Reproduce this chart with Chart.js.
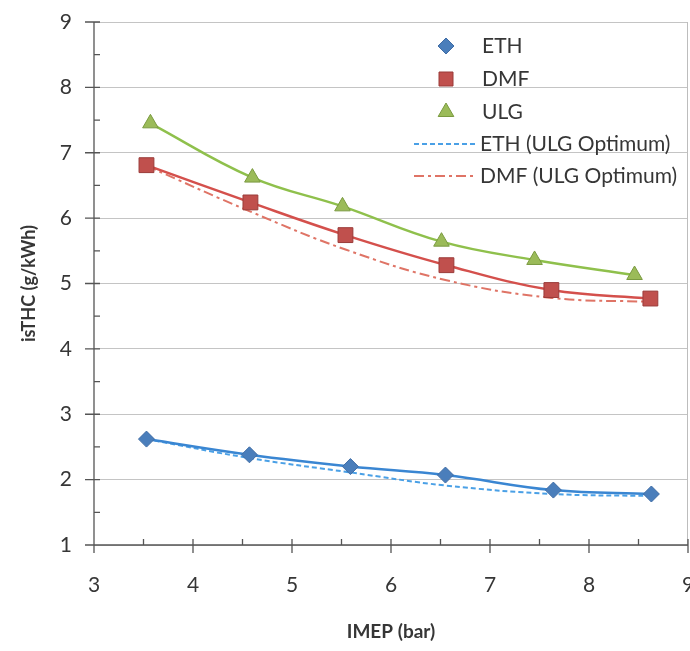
<!DOCTYPE html>
<html><head><meta charset="utf-8">
<script src="https://cdn.jsdelivr.net/npm/chart.js@4/dist/chart.umd.min.js"></script>
<style>
html,body{margin:0;padding:0;background:#fff;overflow:hidden;width:690px;height:651px}
#wrap{position:relative;width:700px;height:651px}
canvas{display:block}
</style></head>
<body><div id="wrap"><canvas id="c" width="700" height="651"></canvas></div>
<script>
// ---- data ----
const xTickLabels = [3, 4, 5, 6, 7, 8, 9];
const yTickLabels = [1, 2, 3, 4, 5, 6, 7, 8, 9];

const ethX = [3.53, 4.57, 5.59, 6.55, 7.64, 8.63];
const ethY = [2.62, 2.38, 2.20, 2.07, 1.84, 1.78];

const dmfX = [3.53, 4.58, 5.54, 6.56, 7.62, 8.62];
const dmfY = [6.81, 6.24, 5.74, 5.28, 4.90, 4.77];

const ulgX = [3.57, 4.60, 5.51, 6.51, 7.45, 8.46];
const ulgY = [7.45, 6.62, 6.18, 5.64, 5.36, 5.13];

const ethOptY = [2.62, 2.33, 2.11, 1.91, 1.78, 1.75];
const dmfOptY = [6.80, 6.10, 5.52, 5.05, 4.78, 4.72];

const seriesNames = ['ETH', 'DMF', 'ULG', 'ETH (ULG Optimum)', 'DMF (ULG Optimum)'];
const xTitle = 'IMEP (bar)';
const yTitle = 'isTHC (g/kWh)';

const pts = (xs, ys) => xs.map((x, i) => ({x, y: ys[i]}));

const FONT = 'Lato, "Open Sans", sans-serif';
const TXT = '#363636';

const axisPlugin = {
  id: 'axisPlugin',
  beforeDatasetsDraw(chart) {
    const {ctx, chartArea: a, scales: {x, y}} = chart;
    ctx.save();
    ctx.strokeStyle = '#bdbdbd'; ctx.lineWidth = 1;
    ctx.beginPath(); ctx.moveTo(a.right - 0.5, a.top); ctx.lineTo(a.right - 0.5, a.bottom); ctx.stroke();
    ctx.strokeStyle = '#555'; ctx.lineWidth = 1.3;
    ctx.beginPath();
    ctx.moveTo(a.left, a.top); ctx.lineTo(a.left, a.bottom);
    ctx.moveTo(a.left - 9, a.bottom); ctx.lineTo(a.right, a.bottom);
    for (let v = 1; v <= 9; v += 0.5) {
      const py = y.getPixelForValue(v);
      const major = Number.isInteger(v);
      ctx.moveTo(major ? a.left - 9 : a.left, py); ctx.lineTo(a.left + 6, py);
    }
    for (let v = 3; v <= 9; v += 0.5) {
      const px = x.getPixelForValue(v);
      const major = Number.isInteger(v);
      ctx.moveTo(px, a.bottom - 6); ctx.lineTo(px, major ? a.bottom + 8 : a.bottom);
    }
    ctx.stroke();
    ctx.restore();
  }
};

function drawMarker(ctx, style, cx, cy, fill, stroke) {
  ctx.save();
  ctx.fillStyle = fill; ctx.strokeStyle = stroke; ctx.lineWidth = 1;
  ctx.beginPath();
  if (style === 'rectRot') {
    const r = 8;
    ctx.moveTo(cx, cy - r); ctx.lineTo(cx + r, cy); ctx.lineTo(cx, cy + r); ctx.lineTo(cx - r, cy); ctx.closePath();
  } else if (style === 'rect') {
    const s = 7;
    ctx.rect(cx - s, cy - s, 2 * s, 2 * s);
  } else {
    const r = 9;
    ctx.moveTo(cx, cy - r); ctx.lineTo(cx + r * 0.87, cy + r * 0.5); ctx.lineTo(cx - r * 0.87, cy + r * 0.5); ctx.closePath();
  }
  ctx.fill(); ctx.stroke();
  ctx.restore();
}

const legendPlugin = {
  id: 'customLegend',
  afterDraw(chart) {
    const {ctx} = chart;
    const ds = chart.data.datasets;
    const rows = [46, 79, 112, 144, 176];
    ctx.save();
    ctx.font = '21px ' + FONT;
    ctx.textBaseline = 'middle';
    ctx.textAlign = 'left';
    for (let i = 0; i < 3; i++) {
      drawMarker(ctx, ds[i].pointStyle, 446, rows[i], ds[i].pointBackgroundColor, ds[i].pointBorderColor);
      ctx.fillStyle = TXT;
      ctx.fillText(seriesNames[i], 482, rows[i]);
    }
    for (let i = 3; i < 5; i++) {
      ctx.save();
      ctx.strokeStyle = ds[i].borderColor; ctx.lineWidth = 2;
      ctx.setLineDash(ds[i].borderDash);
      ctx.beginPath(); ctx.moveTo(414, rows[i]); ctx.lineTo(476, rows[i]); ctx.stroke();
      ctx.restore();
      ctx.fillStyle = TXT;
      ctx.fillText(seriesNames[i], 480, rows[i]);
    }
    ctx.restore();
  }
};

const noLabelPadding = s => { s.paddingTop = 0; s.paddingBottom = 0; s.paddingLeft = 0; s.paddingRight = 0; };

const lineBase = {tension: 0.4, fill: false};

const chart = new Chart(document.getElementById('c'), {
  type: 'scatter',
  data: {
    datasets: [
      Object.assign({}, lineBase, {label: seriesNames[0], data: pts(ethX, ethY), showLine: true,
        borderColor: '#3a86d2', borderWidth: 2.5, pointStyle: 'rectRot', pointRadius: 8,
        pointBackgroundColor: '#4a7ebb', pointBorderColor: '#3f6ca5', pointBorderWidth: 1, order: 1}),
      Object.assign({}, lineBase, {label: seriesNames[1], data: pts(dmfX, dmfY), showLine: true,
        borderColor: '#d4504c', borderWidth: 2.5, pointStyle: 'rect', pointRadius: 10.5,
        pointBackgroundColor: '#c0504d', pointBorderColor: '#9a3b39', pointBorderWidth: 1, order: 1}),
      Object.assign({}, lineBase, {label: seriesNames[2], data: pts(ulgX, ulgY), showLine: true,
        borderColor: '#8fc04c', borderWidth: 2.5, pointStyle: 'triangle', pointRadius: 9,
        pointBackgroundColor: '#9bbb59', pointBorderColor: '#7a9a40', pointBorderWidth: 1, order: 1}),
      Object.assign({}, lineBase, {label: seriesNames[3], data: pts(ethX, ethOptY), showLine: true,
        borderColor: '#4aa0e6', borderWidth: 2, borderDash: [5, 3], pointRadius: 0, order: 2}),
      Object.assign({}, lineBase, {label: seriesNames[4], data: pts(dmfX, dmfOptY), showLine: true,
        borderColor: '#df7466', borderWidth: 2, borderDash: [10, 4, 3, 4], pointRadius: 0, order: 2})
    ]
  },
  options: {
    responsive: false,
    animation: false,
    devicePixelRatio: 1,
    layout: {autoPadding: false, padding: {top: 22, right: 12, left: 0, bottom: 0}},
    plugins: {legend: {display: false}, tooltip: {enabled: false}},
    scales: {
      x: {
        type: 'linear', min: 3, max: 9,
        afterFit(s) { s.height = 106; noLabelPadding(s); },
        afterBuildTicks(s) { s.ticks = xTickLabels.map(v => ({value: v})); },
        grid: {display: false, drawTicks: false},
        border: {display: false},
        ticks: {font: {family: FONT, size: 21}, color: TXT, padding: 28, autoSkip: false, maxRotation: 0},
        title: {display: true, text: xTitle, font: {family: FONT, size: 19, weight: 'bold'}, color: TXT, padding: {top: 0, bottom: 8}}
      },
      y: {
        type: 'linear', min: 1, max: 9,
        afterFit(s) { s.width = 94; noLabelPadding(s); },
        afterBuildTicks(s) { s.ticks = yTickLabels.map(v => ({value: v})); },
        grid: {color: '#c4c4c4', lineWidth: 1, drawTicks: false},
        border: {display: false},
        ticks: {font: {family: FONT, size: 21}, color: TXT, padding: 22, autoSkip: false},
        title: {display: true, text: yTitle, font: {family: FONT, size: 18, weight: 'bold'}, color: TXT, padding: {top: 18, bottom: 0}}
      }
    }
  },
  plugins: [axisPlugin, legendPlugin]
});
</script>
</body></html>
